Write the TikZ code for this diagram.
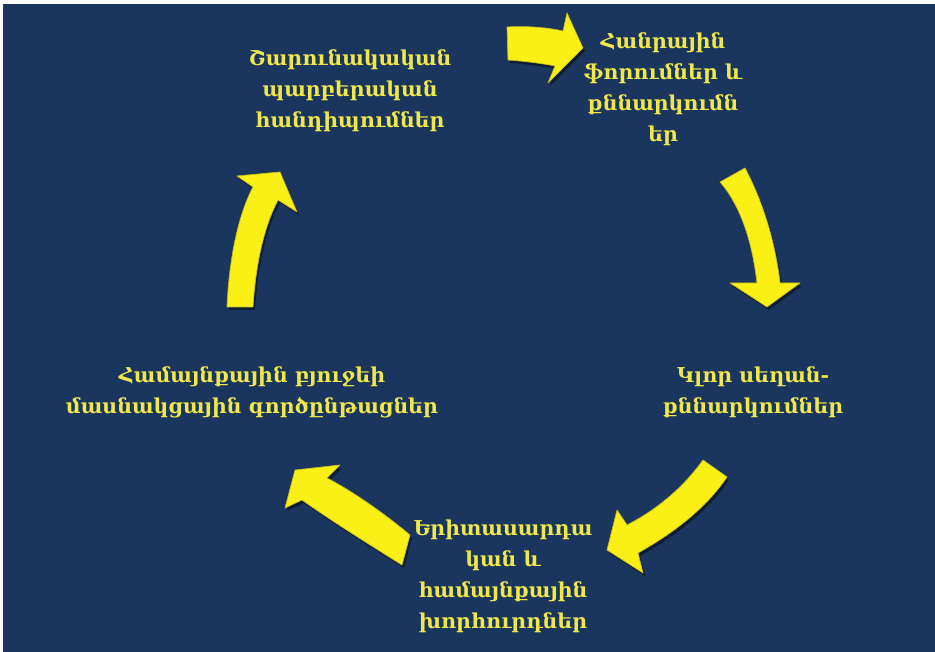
\documentclass[tikz,border=0pt]{standalone}
\usepackage{fontspec}
\setmainfont{DejaVu Serif}
\usepackage{tikz}
\usetikzlibrary{positioning}

\definecolor{fondo}{RGB}{27,54,94}
\definecolor{amarillo}{RGB}{250,240,22}
\definecolor{bordeam}{RGB}{196,186,30}
\definecolor{texto}{RGB}{240,232,74}

\tikzset{
  etiqueta/.style={align=center, text=texto, font=\bfseries\fontsize{20.5}{31}\selectfont},
  flecha/.style={fill=amarillo, draw=bordeam, line width=.7pt, line join=round,
    preaction={fill=black, fill opacity=.45, transform canvas={xshift=2pt, yshift=-3pt}}}
}

\begin{document}
\begin{tikzpicture}[x=1pt, y=-1pt]
    % Fondo
    \fill[fondo] (0,0) rectangle (935,652);
    \fill[white] (0,0) rectangle (935,4);
    \fill[white] (0,0) rectangle (3,652);
    \useasboundingbox (0,0) rectangle (935,652);

    % Definición de los nodos
    \node[etiqueta] (reun) at (350,91) {Շարունակական\\պարբերական\\հանդիպումներ};
    \node[etiqueta] (foro) at (663,89) {Հանրային\\ֆորումներ և\\քննարկումն\\եր};
    \node[etiqueta] (mesa) at (753,392) {Կլոր սեղան-\\քննարկումներ};
    \node[etiqueta] (cons) at (503,576) {Երիտասարդա\\կան և\\համայնքային\\խորհուրդներ};
    \node[etiqueta] (pres) at (252,392) {Համայնքային բյուջեի\\մասնակցային գործընթացներ};

    % Definición de las flechas
    \draw[flecha] (507,27) .. controls (525,26) and (545,27) .. (563,31)
        -- (567,13) -- (583,48) -- (548,83) -- (555,66)
        .. controls (540,63) and (522,61) .. (508,60) -- cycle;
    \draw[flecha] (745,168) .. controls (762,200) and (775,240) .. (780,283)
        -- (800,283) -- (767,307) -- (730,283) -- (757,283)
        .. controls (752,240) and (740,205) .. (720,182) -- cycle;
    \draw[flecha] (727,477) .. controls (705,510) and (670,535) .. (638,553)
        -- (643,573) -- (607,550) -- (617,510) -- (627,525)
        .. controls (660,508) and (685,485) .. (703,460) -- cycle;
    \draw[flecha] (410,535) .. controls (380,510) and (350,490) .. (327,478)
        -- (340,465) -- (295,470) -- (285,508) -- (302,500)
        .. controls (330,520) and (370,545) .. (402,565) -- cycle;
    \draw[flecha] (253,307) .. controls (256,260) and (265,225) .. (278,200)
        -- (297,212) -- (280,172) -- (237,176) -- (253,187)
        .. controls (238,215) and (229,260) .. (227,307) -- cycle;
\end{tikzpicture}
\end{document}
